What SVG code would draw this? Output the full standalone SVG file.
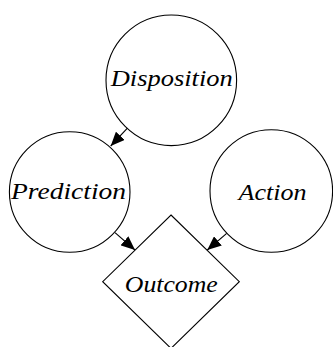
<svg xmlns="http://www.w3.org/2000/svg" width="333" height="347" viewBox="0 0 333 347">
<style>
.n{fill:#fff;stroke:#000;stroke-width:1.1}
.t{font-family:"Liberation Serif","Times New Roman",serif;font-style:italic;font-weight:normal;font-size:23px;fill:#000;text-anchor:middle}
.e{fill:none;stroke:#000;stroke-width:1.1}
</style>
<defs>
<marker id="ah" viewBox="0 0 14 12" refX="14" refY="6" markerWidth="14" markerHeight="12" markerUnits="userSpaceOnUse" orient="auto">
<path d="M0,0 L14,6 L0,12 z" fill="#000"/>
</marker>
</defs>
<g id="Disposition"><circle class="n" cx="171.3" cy="80.3" r="65.3"/><text class="t" x="171.7" y="86" textLength="122" lengthAdjust="spacingAndGlyphs">Disposition</text></g>
<g id="Prediction"><circle class="n" cx="69.7" cy="192" r="60.3"/><text class="t" x="68.5" y="199.3" textLength="115" lengthAdjust="spacingAndGlyphs">Prediction</text></g>
<g id="Action"><circle class="n" cx="271.3" cy="191" r="61.3"/><text class="t" x="272.5" y="200" textLength="68" lengthAdjust="spacingAndGlyphs">Action</text></g>
<g id="Outcome"><path class="n" d="M171,215 L239.3,281.7 L171,348.4 L102.7,281.7 Z"/><text class="t" x="171.3" y="291.7" textLength="93" lengthAdjust="spacingAndGlyphs">Outcome</text></g>
<g id="edges">
<path class="e" d="M127.4,128.2 L110.7,146" marker-end="url(#ah)"/>
<path class="e" d="M115,232.7 L135,250" marker-end="url(#ah)"/>
<path class="e" d="M226.7,233.3 L207.3,250" marker-end="url(#ah)"/>
</g>
</svg>
